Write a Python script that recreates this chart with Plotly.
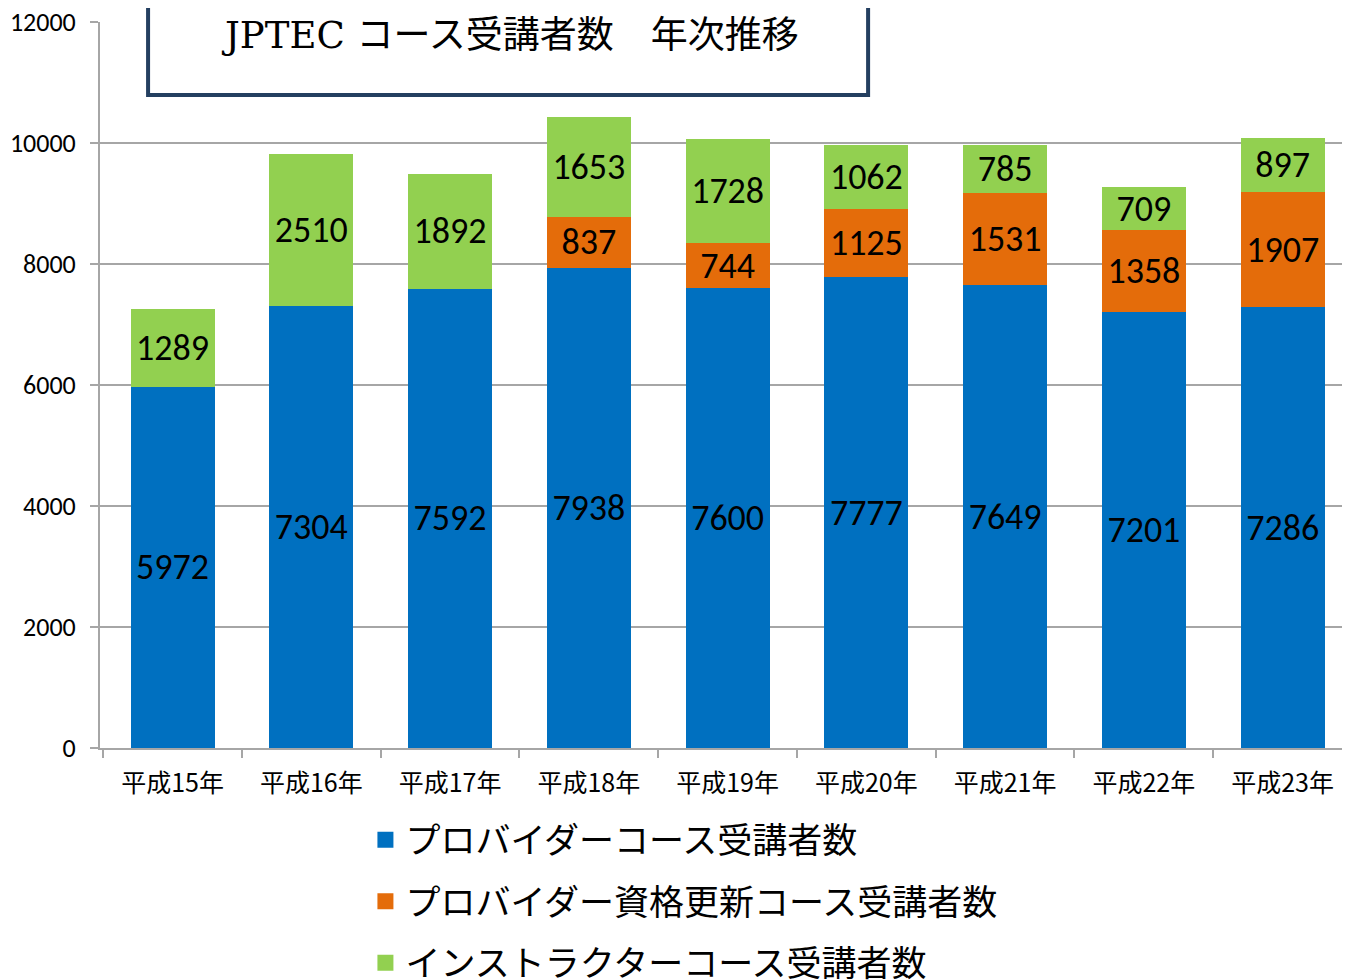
import plotly.graph_objects as go

categories = ["平成15年", "平成16年", "平成17年", "平成18年", "平成19年",
              "平成20年", "平成21年", "平成22年", "平成23年"]
provider = [5972, 7304, 7592, 7938, 7600, 7777, 7649, 7201, 7286]
renewal = [None, None, None, 837, 744, 1125, 1531, 1358, 1907]
instructor = [1289, 2510, 1892, 1653, 1728, 1062, 785, 709, 897]
series_names = ["プロバイダーコース受講者数", "プロバイダー資格更新コース受講者数", "インストラクターコース受講者数"]
colors = ["#0070C0", "#E46C0A", "#92D050"]
y_ticks = [0, 2000, 4000, 6000, 8000, 10000, 12000]
title_text = "JPTEC コース受講者数　年次推移"

label_font = dict(family="Carlito, Lato, Noto Sans CJK JP", size=36, color="black")

fig = go.Figure()
for name, vals, col in zip(series_names, [provider, renewal, instructor], colors):
    fig.add_trace(go.Bar(
        x=categories, y=vals, name=name, marker=dict(color=col, line=dict(width=0)),
        text=[("" if v is None else str(v)) for v in vals],
        textposition="inside", insidetextanchor="middle", textangle=0,
        constraintext="none",
        textfont=label_font, showlegend=False, cliponaxis=False,
    ))
# legend entries
for i, (name, col) in enumerate(zip(series_names, colors)):
    fig.add_trace(go.Scatter(
        x=[categories[0]], y=[None], mode="markers", name=name,
        marker=dict(symbol="square", size=16, color=col),
        legendgroup=f"g{i}", showlegend=True, hoverinfo="skip",
    ))

fig.update_layout(
    width=1350, height=980,
    margin=dict(l=92, r=6, t=14, b=240, autoexpand=False),
    barmode="stack", bargap=0.396,
    plot_bgcolor="white", paper_bgcolor="white",
    font=dict(family="Noto Sans CJK JP", color="black"),
    legend=dict(
        x=0.212, y=-0.086, xanchor="left", yanchor="top",
        font=dict(family="Noto Sans CJK JP", size=35, color="black"),
        tracegroupgap=13, bgcolor="rgba(0,0,0,0)", itemwidth=30,
    ),
    shapes=[dict(
        type="rect", xref="paper", yref="paper",
        x0=0.0384, x1=0.6135, y0=0.8994, y1=1.04,
        line=dict(color="#243F60", width=4), fillcolor="white", layer="above",
    )],
    annotations=[dict(
        text=title_text, xref="paper", yref="paper", x=0.3275, y=0.982,
        xanchor="center", yanchor="middle", showarrow=False,
        font=dict(family="DejaVu Serif, Noto Sans CJK JP", size=37, color="black"),
    )],
)
fig.update_yaxes(
    range=[0, 12000], tickvals=y_ticks, tickformat="d", showgrid=True,
    gridcolor="#A6A6A6", gridwidth=2, automargin=False, ticklabeloverflow="allow",
    showline=True, linecolor="#A6A6A6", linewidth=2, ticks="outside", ticklen=8,
    tickcolor="#A6A6A6", tickwidth=2, zeroline=False, ticklabelstandoff=9,
    tickfont=dict(family="Carlito, Lato, Noto Sans CJK JP", size=26, color="black"),
)
fig.update_xaxes(
    showline=True, linecolor="#A6A6A6", linewidth=2, ticks="outside", ticklen=8,
    tickcolor="#A6A6A6", tickwidth=2, tickson="boundaries", automargin=False,
    ticklabelstandoff=12,
    tickfont=dict(family="Noto Sans CJK JP", size=25, color="black"),
)
fig.write_html("out.html")
